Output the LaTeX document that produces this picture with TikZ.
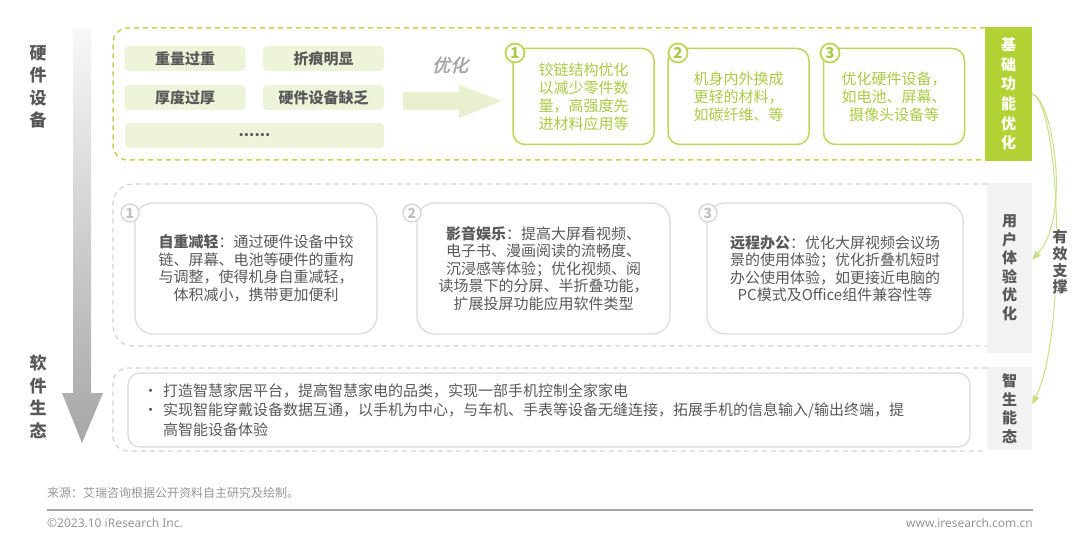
\documentclass[tikz,border=0pt]{standalone}
\usepackage{fontspec}
\setmainfont{Noto Sans CJK SC}
\newfontfamily\slantcjk[FakeSlant=0.25,FakeBold=2]{Noto Sans CJK SC}
\newfontfamily\footfont{Noto Sans}
\usepackage{xcolor}
\usetikzlibrary{arrows.meta}

\definecolor{leafgreen}{HTML}{B2D235}
\definecolor{linegreen}{HTML}{BDD65B}
\definecolor{textgreen}{HTML}{A9CA45}
\definecolor{palegreen}{HTML}{EEF4D9}
\definecolor{arrowgreen}{HTML}{E9F0CF}
\definecolor{curvegreen}{HTML}{C8DF85}
\definecolor{darktext}{HTML}{595959}
\definecolor{boxgray}{HTML}{D9D9D9}
\definecolor{dashgray}{HTML}{D3D3D3}
\definecolor{numgray}{HTML}{BFBFBF}
\definecolor{labelgray}{HTML}{F2F2F2}
\definecolor{rulegray}{HTML}{A6A6A6}

\begin{document}
\begin{tikzpicture}[x=1pt, y=-1pt, line join=round]
	% Define style for nodes
	\tikzstyle{every node}=[inner sep=0pt, text=darktext]
	\tikzstyle{tag}=[rectangle, rounded corners=4pt, fill=palegreen, minimum width=121pt, minimum height=25pt, font=\fontsize{15}{18}\selectfont\bfseries]
	\tikzstyle{greenbox}=[rectangle, rounded corners=12pt, draw=linegreen, line width=1.5pt, minimum width=141pt, minimum height=96pt, align=center, text=textgreen, font=\fontsize{15}{18}\selectfont]
	\tikzstyle{graybox}=[rectangle, rounded corners=18pt, draw=boxgray, line width=1.2pt, minimum height=131pt, align=center, font=\fontsize{15}{17.5}\selectfont]
	\tikzstyle{greennum}=[circle, draw=linegreen, fill=white, line width=1.8pt, minimum size=19pt, text=textgreen, font=\fontsize{15}{15}\selectfont\bfseries]
	\tikzstyle{graynum}=[circle, draw=boxgray, fill=white, line width=1.5pt, minimum size=18pt, text=numgray, font=\fontsize{14}{14}\selectfont\bfseries]
	\tikzstyle{sidelabel}=[rectangle, minimum width=45pt, align=center, font=\fontsize{15}{18.5}\selectfont\bfseries]
	
	\useasboundingbox (0,0) rectangle (1080,540);
	
	% left axis
	\shade[top color=black!3, bottom color=rulegray] (73,29) -- (91,29) -- (91,393) -- (103,393) -- (82,443) -- (62,393) -- (73,393) -- cycle;
	\node[align=center, font=\fontsize{17}{22.5}\selectfont\bfseries] (hw) at (38,87) {硬\\件\\设\\备};
	\node[align=center, font=\fontsize{17}{22.5}\selectfont\bfseries] (sw) at (38,397) {软\\件\\生\\态};
	
	% hardware row
	\draw[linegreen, line width=1.5pt, dash pattern=on 5pt off 4pt, rounded corners=15pt] (985,28) -- (113,28) -- (113,160) -- (985,160);
	\node[sidelabel, fill=leafgreen, minimum width=47pt, minimum height=134pt, text=white, font=\fontsize{15}{19.6}\selectfont\bfseries] (fo) at (1008.5,94) {基\\础\\功\\能\\优\\化};
	
	\node[tag] (t1) at (185,58.5) {重量过重};
	\node[tag] (t2) at (323.5,58.5) {折痕明显};
	\node[tag] (t3) at (185,97.5) {厚度过厚};
	\node[tag] (t4) at (323.5,97.5) {硬件设备缺乏};
	\node[tag, minimum width=259pt] (t5) at (254.5,135.5) {......};
	
	\fill[arrowgreen] (403,92) -- (459,92) -- (459,85) -- (502,101) -- (459,118) -- (459,110) -- (403,110) -- cycle;
	\node[text=rulegray, font=\fontsize{18}{18}\slantcjk] (opt) at (450,65) {优化};
	
	\node[greenbox] (g1) at (583.5,96.5) {铰链结构优化\\以减少零件数\\量，高强度先\\进材料应用等};
	\node[greenbox] (g2) at (738.5,96.5) {机身内外换成\\更轻的材料，\\如碳纤维、等};
	\node[greenbox] (g3) at (894,96.5) {优化硬件设备，\\如电池、屏幕、\\摄像头设备等};
	\node[greennum] (n1) at (515,53) {1};
	\node[greennum] (n2) at (678,53) {2};
	\node[greennum] (n3) at (830,53) {3};
	
	% user experience row
	\draw[dashgray, line width=1.2pt, dash pattern=on 5pt off 4pt, rounded corners=20pt] (987,184) -- (113,184) -- (113,346) -- (987,346);
	\node[sidelabel, fill=labelgray, minimum height=170pt] (ux) at (1009.5,268) {用\\户\\体\\验\\优\\化};
	
	\node[graybox, minimum width=242pt] (b1) at (256,268.5) {\textbf{自重减轻}：通过硬件设备中铰\\链、屏幕、电池等硬件的重构\\与调整，使得机身自重减轻，\\体积减小，携带更加便利};
	\node[graybox, minimum width=253pt] (b2) at (543.5,268.5) {\textbf{影音娱乐}：提高大屏看视频、\\电子书、漫画阅读的流畅度、\\沉浸感等体验；优化视频、阅\\读场景下的分屏、半折叠功能，\\扩展投屏功能应用软件类型};
	\node[graybox, minimum width=256pt] (b3) at (835,268.5) {\textbf{远程办公}：优化大屏视频会议场\\景的使用体验；优化折叠机短时\\办公使用体验，如更接近电脑的\\PC模式及Office组件兼容性等};
	\node[graynum] (m1) at (130,213) {1};
	\node[graynum] (m2) at (412,213) {2};
	\node[graynum] (m3) at (708,213) {3};
	
	% ecosystem row
	\draw[dashgray, line width=1.2pt, dash pattern=on 5pt off 4pt, rounded corners=15pt] (987,368) -- (113,368) -- (113,451) -- (987,451);
	\node[sidelabel, fill=labelgray, minimum height=83pt] (eco) at (1009.5,408.5) {智\\生\\能\\态};
	\node[rectangle, rounded corners=12pt, draw=boxgray, line width=1.2pt, minimum width=842pt, minimum height=74pt] (e1) at (549,410) {};
	\node[anchor=west, align=left, font=\fontsize{15}{19.5}\selectfont] (etext) at (143,410) {%
		\makebox[20pt][l]{•}打造智慧家居平台，提高智慧家电的品类，实现一部手机控制全家家电\\
		\makebox[20pt][l]{•}实现智能穿戴设备数据互通，以手机为中心，与车机、手表等设备无缝连接，拓展手机的信息输入/输出终端，提\\
		\hspace*{20pt}高智能设备体验};
	
	% support arrows
	\draw[curvegreen, line width=1pt, -{Triangle[length=9pt, width=7pt]}] (fo.east) .. controls (1052,98) and (1072,215) .. ([yshift=8pt]ux.east);
	\draw[curvegreen, line width=1pt, -{Triangle[length=9pt, width=7pt]}] (fo.east) .. controls (1060,102) and (1068,330) .. ([yshift=4pt]eco.east);
	\node[fill=white, inner sep=1pt, align=center, font=\fontsize{15}{16.7}\selectfont\bfseries] (sup) at (1060,262) {有\\效\\支\\撑};
	
	% footer
	\node[anchor=west, text=rulegray!90!black, font=\fontsize{12}{12}\selectfont] (src) at (47,493) {来源：艾瑞咨询根据公开资料自主研究及绘制。};
	\draw[rulegray, line width=1.3pt] (47,510) -- (1033,510);
	\node[anchor=west, text=rulegray!90!black, font=\fontsize{12}{12}\footfont] (copy) at (47,523) {©2023.10 iResearch Inc.};
	\node[anchor=east, text=rulegray!90!black, font=\fontsize{12}{12}\footfont] (web) at (1033,523) {www.iresearch.com.cn};
\end{tikzpicture}
\end{document}
